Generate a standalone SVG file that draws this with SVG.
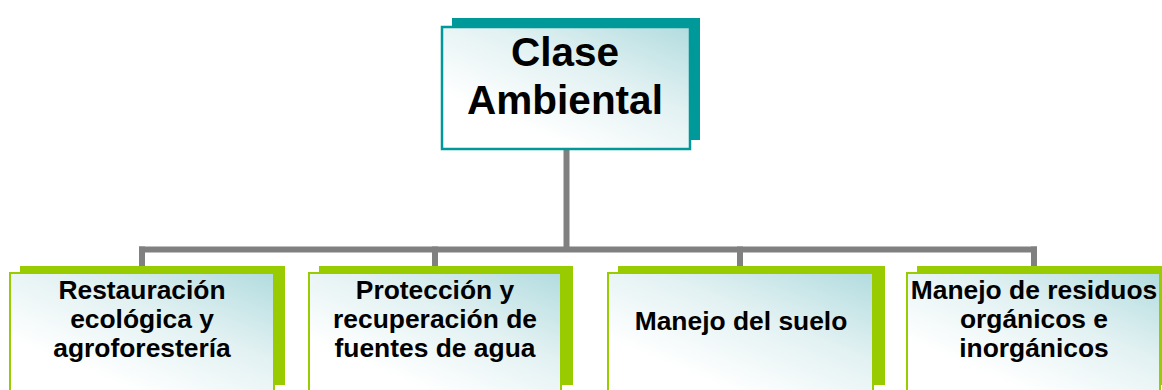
<svg xmlns="http://www.w3.org/2000/svg" width="1162" height="390" viewBox="0 0 1162 390">
<defs>
<linearGradient id="fill" x1="1" y1="0" x2="0.3" y2="0.8">
<stop offset="0" stop-color="#b2dcdf"/>
<stop offset="0.5" stop-color="#e2f1f2"/>
<stop offset="1" stop-color="#ffffff"/>
</linearGradient>
</defs>
<style>
.conn{stroke:#808080;stroke-width:6;fill:none}
.tshadow{fill:#009999}
.tfront{fill:url(#fill);stroke:#009999;stroke-width:2.5}
.gshadow{fill:#99cc00}
.gfront{fill:url(#fill);stroke:#99cc00;stroke-width:2}
.t1{font-family:"Liberation Sans",Arial,sans-serif;font-weight:bold;font-size:40.5px;fill:#000;text-anchor:middle}
.t2{font-family:"Liberation Sans",Arial,sans-serif;font-weight:bold;font-size:26.4px;fill:#000;text-anchor:middle}
</style>
<g id="connectors">
<path class="conn" d="M566.5 149 V249.5"/>
<path class="conn" d="M139 249.5 H1037"/>
<path class="conn" d="M142 246.5 V268"/>
<path class="conn" d="M435 246.5 V268"/>
<path class="conn" d="M740 246.5 V268"/>
<path class="conn" d="M1034 246.5 V268"/>
</g>
<g id="root">
<rect class="tshadow" x="452" y="18" width="248" height="122"/>
<rect class="tfront" x="442" y="27" width="248" height="122"/>
<text class="t1" x="565" y="66">Clase</text>
<text class="t1" x="565" y="114">Ambiental</text>
</g>
<g id="n1">
<rect class="gshadow" x="20" y="266" width="265" height="119"/>
<rect class="gfront" x="10" y="273" width="264" height="125"/>
<text class="t2" x="142" y="299">Restauración</text>
<text class="t2" x="142" y="328">ecológica y</text>
<text class="t2" x="142" y="357">agroforestería</text>
</g>
<g id="n2">
<rect class="gshadow" x="319" y="266" width="254" height="119"/>
<rect class="gfront" x="309" y="273" width="252" height="125"/>
<text class="t2" x="435" y="299">Protección y</text>
<text class="t2" x="435" y="328">recuperación de</text>
<text class="t2" x="435" y="357">fuentes de agua</text>
</g>
<g id="n3">
<rect class="gshadow" x="618" y="266" width="267" height="119"/>
<rect class="gfront" x="608" y="273" width="265" height="125"/>
<text class="t2" x="741" y="330">Manejo del suelo</text>
</g>
<g id="n4">
<rect class="gshadow" x="917" y="266" width="250" height="119"/>
<rect class="gfront" x="907" y="273" width="253" height="125"/>
<text class="t2" x="1034" y="299">Manejo de residuos</text>
<text class="t2" x="1034" y="328">orgánicos e</text>
<text class="t2" x="1034" y="357">inorgánicos</text>
</g>
</svg>
